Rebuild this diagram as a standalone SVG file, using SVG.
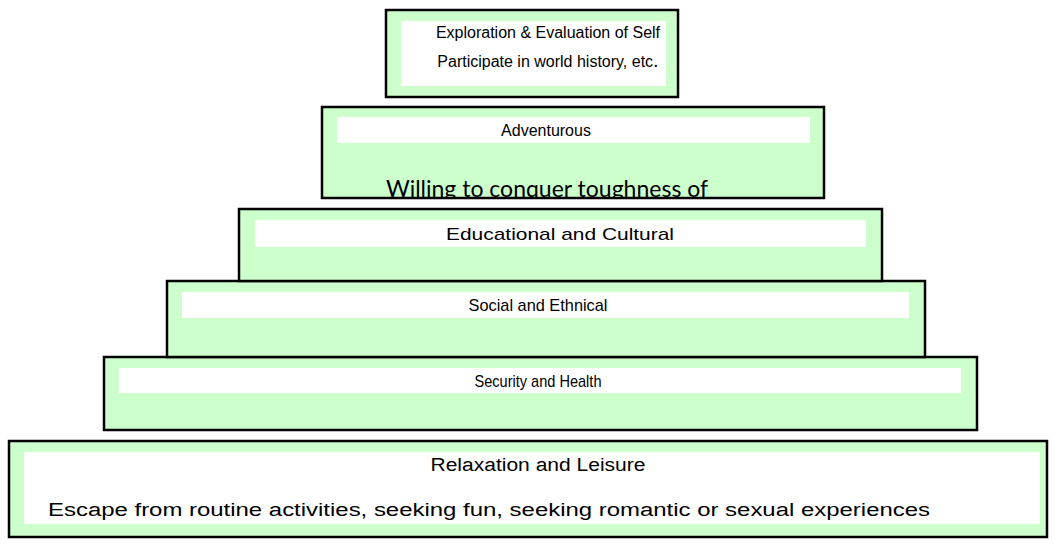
<svg xmlns="http://www.w3.org/2000/svg" width="1054" height="548" viewBox="0 0 1054 548">
<style>
.box{fill:#CCFFCC;stroke:#000;stroke-width:2.5}
.inner{fill:#fff}
.t{font-family:"Liberation Sans",Arial,sans-serif;font-size:16px;fill:#000;text-anchor:middle}
.n{font-family:"Liberation Sans",Arial,sans-serif;font-size:17px;fill:#000;text-anchor:middle}
.b{font-family:"Liberation Sans",Arial,sans-serif;font-size:18px;fill:#000;text-anchor:middle}
.c{font-family:Lato,"Open Sans",sans-serif;font-size:23px;fill:#000;text-anchor:middle}
</style>
<defs>
<clipPath id="clip2"><rect x="322" y="107" width="502" height="91"/></clipPath>
</defs>
<rect width="1054" height="548" fill="#fff"/>
<g id="level6">
<rect class="box" x="9" y="441" width="1038" height="96"/>
<rect class="inner" x="24" y="452" width="1016" height="72"/>
<text class="b" x="538" y="471" textLength="215" lengthAdjust="spacingAndGlyphs">Relaxation and Leisure</text>
<text class="b" x="489" y="516" textLength="882" lengthAdjust="spacingAndGlyphs">Escape from routine activities, seeking fun, seeking romantic or sexual experiences</text>
</g>
<g id="level5">
<rect class="box" x="104" y="357" width="873" height="73"/>
<rect class="inner" x="119" y="368" width="842" height="25"/>
<text class="n" x="538" y="387" textLength="127" lengthAdjust="spacingAndGlyphs">Security and Health</text>
</g>
<g id="level4">
<rect class="box" x="167" y="281" width="758" height="76"/>
<rect class="inner" x="182" y="292" width="727" height="26"/>
<text class="n" x="538" y="311" textLength="139" lengthAdjust="spacingAndGlyphs">Social and Ethnical</text>
</g>
<g id="level3">
<rect class="box" x="239" y="209" width="643" height="72"/>
<rect class="inner" x="255" y="220" width="611" height="27"/>
<text class="n" x="560" y="240" textLength="228" lengthAdjust="spacingAndGlyphs">Educational and Cultural</text>
</g>
<g id="level2">
<rect class="box" x="322" y="107" width="502" height="91"/>
<rect class="inner" x="337" y="117" width="473" height="26"/>
<text class="t" x="546" y="136">Adventurous</text>
<text class="c" x="547" y="197" clip-path="url(#clip2)">Willing to conquer toughness of</text>
</g>
<g id="level1">
<rect class="box" x="386" y="10" width="292" height="87"/>
<rect class="inner" x="401" y="21" width="265" height="65"/>
<text class="t" x="548" y="38">Exploration &amp; Evaluation of Self</text>
<text class="t" x="548" y="67">Participate in world history, etc<tspan font-size="20">.</tspan></text>
</g>
<g id="connectors"/>
</svg>
